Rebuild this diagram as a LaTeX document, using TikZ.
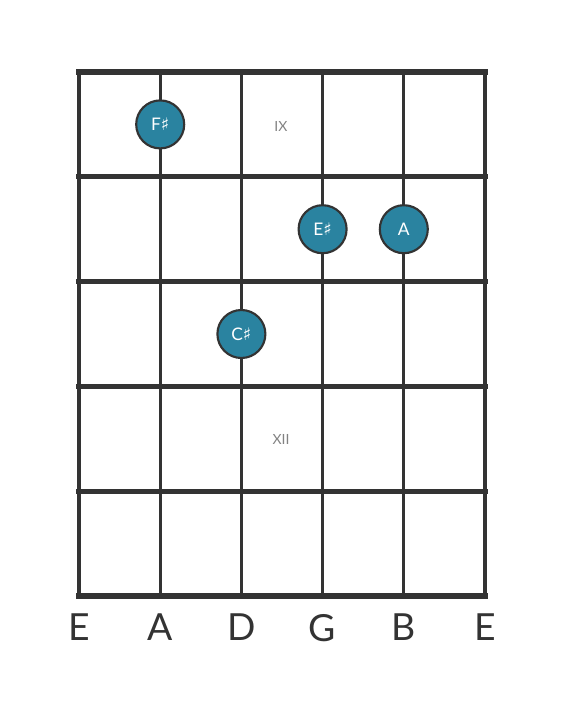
\documentclass[tikz,border=0pt]{standalone}
\usepackage{fontspec}
\setmainfont{Lato}
\newfontfamily\symfont{DejaVu Sans}
\usetikzlibrary{positioning}
\definecolor{gridgray}{RGB}{51,51,51}
\definecolor{dotblue}{RGB}{42,131,160}
\definecolor{labelgray}{RGB}{130,130,130}
\newcommand{\shp}{{\symfont\char"266F}}
\tikzset{
  fretline/.style={draw=gridgray, line width=3.8pt},
  stringline/.style={draw=gridgray, line width=2.3pt},
  notedot/.style={circle, draw=gridgray, line width=1.6pt, fill=dotblue, minimum size=36pt, inner sep=0pt, text=white, font=\fontsize{13}{13}\selectfont},
  fretlabel/.style={text=labelgray, font=\fontsize{10.5}{10.5}\selectfont},
  stringlabel/.style={text=gridgray, font=\fontsize{28}{28}\selectfont}
}
\begin{document}
\begin{tikzpicture}[x=0.75pt,y=-0.75pt]
            \useasboundingbox (0,0) rectangle (566,711);
            % strings
            \foreach \s/\x in {1/79,2/160.2,3/241.4,4/322.6,5/403.8,6/485} {
                \coordinate (top\s) at (\x,72);
                \coordinate (bot\s) at (\x,596);
                \draw[stringline] (top\s) -- (bot\s);
            }
            % frets
            \foreach \f/\y in {0/72,1/176.8,2/281.6,3/386.4,4/491.2,5/596} {
                \coordinate (left\f) at (79,\y);
                \coordinate (right\f) at (485,\y);
                \draw[fretline, line cap=rect] (left\f) -- (right\f);
            }
            % fret numbers
            \node[fretlabel] (ix) at (281,126) {IX};
            \node[fretlabel] (xii) at (281,439) {XII};
            % notes
            \node[notedot] (fsharp) at (160.2,124.4) {F\shp};
            \node[notedot] (esharp) at (322.6,229.2) {E\shp};
            \node[notedot] (a) at (403.8,229.2) {A};
            \node[notedot] (csharp) at (241.4,334) {C\shp};
            % open strings
            \foreach \s/\n in {1/E,2/A,3/D,4/G,5/B,6/E} {
                \node[stringlabel, below=10pt of bot\s] (name\s) {\n};
            }
        \end{tikzpicture}
\end{document}
